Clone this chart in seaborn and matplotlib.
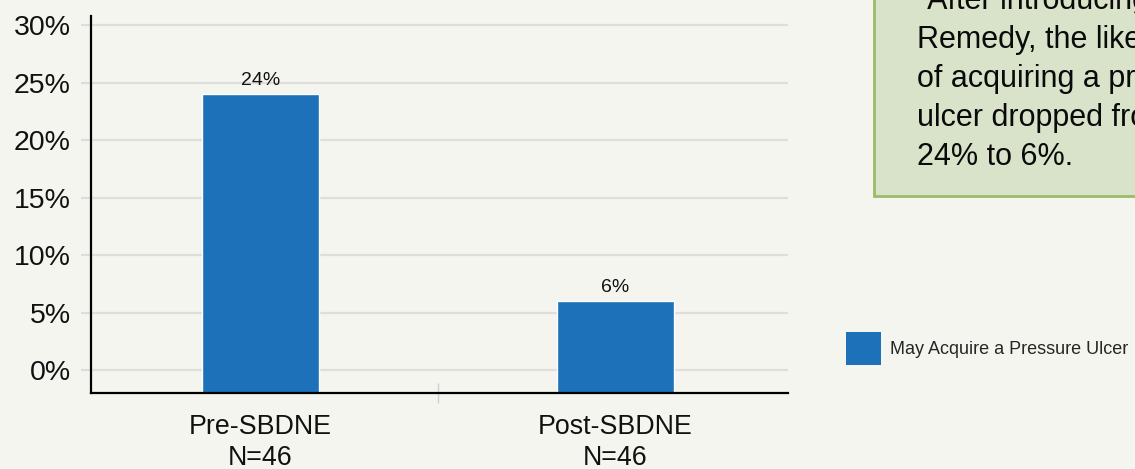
import matplotlib
matplotlib.use("Agg")
import matplotlib.pyplot as plt
import matplotlib.patches as mpatches
import pandas as pd
import seaborn as sns

# data
groups = ["Pre-SBDNE", "Post-SBDNE"]
sample_sizes = [46, 46]
pct_values = [24, 6]
y_ticks = [0, 5, 10, 15, 20, 25, 30]
series_name = "May Acquire a Pressure Ulcer"
note_lines = ["\u201cAfter introducing", "Remedy, the likelihood", "of acquiring a pressure",
              "ulcer dropped from", "24% to 6%."]

bg = "#f3f5ee"
bar_color = "#1d71b8"

sns.set_theme(style="white")
plt.rcParams['font.family'] = ['Liberation Sans', 'DejaVu Sans']

df = pd.DataFrame({
    "group": [f"{g}\nN={n}" for g, n in zip(groups, sample_sizes)],
    "pct": pct_values,
})

W, H = 1135, 469
fig = plt.figure(figsize=(W / 100, H / 100), dpi=100, facecolor=bg)
ax = fig.add_axes([91 / W, 1 - 393 / H, (788 - 91) / W, (393 - 16) / H])
ax.set_facecolor(bg)

sns.barplot(data=df, x="group", y="pct", color=bar_color, width=0.33,
            saturation=1, ax=ax, zorder=2)

# axes ranges
y_bottom = -2
ax.set_ylim(y_bottom, 30.8)
ax.set_xlim(-0.4775, 1.486)

# bars in the original reach down to the axis line
for p in ax.patches:
    top = p.get_y() + p.get_height()
    p.set_y(y_bottom)
    p.set_height(top - y_bottom)

ax.bar_label(ax.containers[0], labels=[f"{v}%" for v in pct_values],
             padding=3.5, fontsize=14, color="#111111")

# y axis
ax.set_yticks(y_ticks)
ax.set_yticklabels([f"{t}%" for t in y_ticks])
ax.tick_params(axis="y", length=7.5, width=1.5, color="#dcdcdc", pad=7,
               labelsize=20.5, labelcolor="#111111", left=True)
ax.yaxis.grid(True, color="#dedede", lw=1.6)
ax.set_axisbelow(True)

# x axis
ax.tick_params(axis="x", which="major", length=0, pad=15, labelsize=19.3,
               labelcolor="#111111")
for lbl in ax.get_xticklabels():
    lbl.set_linespacing(1.28)
ax.set_xticks([0.5], minor=True)
ax.tick_params(axis="x", which="minor", length=14, width=1, direction="inout",
               color="#cfcfcf", bottom=True)
ax.set_xlabel("")
ax.set_ylabel("")

for s in ["top", "right"]:
    ax.spines[s].set_visible(False)
for s in ["left", "bottom"]:
    ax.spines[s].set_color("black")
    ax.spines[s].set_linewidth(1.6)

# legend
handle = mpatches.Patch(facecolor=bar_color, edgecolor="none")
fig.legend(handles=[handle], labels=[series_name], loc="center left",
           bbox_to_anchor=(846 / W, 1 - 348.5 / H), frameon=False, fontsize=13,
           handlelength=1.94, handleheight=2.5, handletextpad=0.5,
           borderpad=0, borderaxespad=0)

# note box (clipped by the figure edge, as in the original)
box = mpatches.Rectangle((874 / W, 1 - 196 / H), 0.4, 0.6, transform=fig.transFigure,
                         facecolor="#d9e3c9", edgecolor="#9cbb69", lw=2)
fig.add_artist(box)
n = len(note_lines)
for i, line in enumerate(note_lines):
    base = 165 - 39 * (n - 1 - i)
    fig.text(917 / W, 1 - base / H, line, ha="left", va="baseline",
             fontsize=22, color="#0a0a0a")

fig.savefig("out.png", dpi=100, facecolor=bg)
